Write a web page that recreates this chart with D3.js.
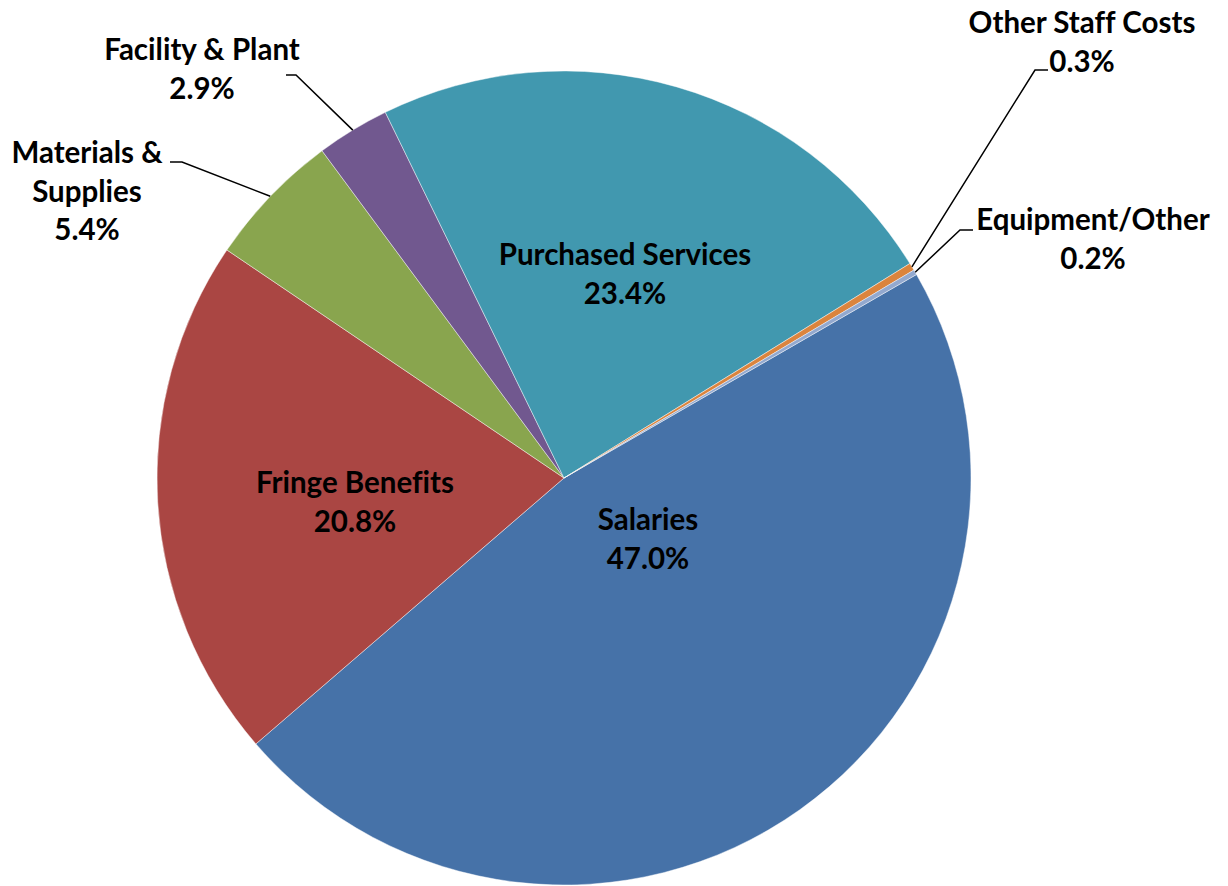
<!DOCTYPE html>
<html>
<head>
<meta charset="utf-8">
<script src="https://cdn.jsdelivr.net/npm/d3@7"></script>
<style>
  html, body { margin: 0; padding: 0; background: #ffffff; }
  svg { display: block; }
  text { font-family: Lato, "Open Sans", "Liberation Sans", sans-serif; font-weight: bold; fill: #000;
         font-variant-ligatures: none; font-feature-settings: "liga" 0; }
</style>
</head>
<body>
<svg id="chart" width="1228" height="886"></svg>
<script>
// ---- data ----
const categories = ["Salaries", "Fringe Benefits", "Materials & Supplies", "Facility & Plant",
                    "Purchased Services", "Other Staff Costs", "Equipment/Other"];
const values = [47.0, 20.8, 5.4, 2.9, 23.4, 0.3, 0.2];
const colors = ["#4672A8", "#AA4643", "#89A54E", "#71588F", "#4198AF", "#DB843D", "#93A9CF"];
// label text lines (name lines); percentage appended
const labelLines = [["Salaries"], ["Fringe Benefits"], ["Materials &", "Supplies"], ["Facility & Plant"],
                    ["Purchased Services"], ["Other Staff Costs"], ["Equipment/Other"]];

// ---- layout config ----
const W = 1228, H = 886;
const cx = 564, cy = 478, R = 407;
const startDeg = 60;
const fontSize = 29.5, lineH = 38.5;
// label anchor (center x, first-line baseline y) and leader elbow (for outside labels)
const labelLayout = [
  { x: 648, y: 530 },
  { x: 355, y: 493 },
  { x: 87,  y: 163, elbow: [182, 162], end: [170, 162] },
  { x: 202, y: 60,  elbow: [296, 75],  end: [286, 75] },
  { x: 625, y: 265 },
  { x: 1082, y: 33, elbow: [1035, 70], end: [1048, 70] },
  { x: 1093, y: 230, elbow: [960, 230], end: [973, 230] }
];

const svg = d3.select("#chart");
const data = categories.map((c, i) => ({ name: c, value: values[i], color: colors[i], lines: labelLines[i], lay: labelLayout[i] }));

const pie = d3.pie().value(d => d.value).sort(null)
  .startAngle(startDeg * Math.PI / 180)
  .endAngle(startDeg * Math.PI / 180 + 2 * Math.PI);
const arc = d3.arc().innerRadius(0).outerRadius(R);
const arcs = pie(data);

const g = svg.append("g").attr("transform", `translate(${cx},${cy})`);
g.selectAll("path.slice").data(arcs).enter().append("path")
  .attr("class", "slice")
  .attr("d", arc)
  .attr("fill", d => d.data.color)
  .attr("stroke", "#ffffff")
  .attr("stroke-opacity", 0.55)
  .attr("stroke-width", 0.8);

// leader lines
arcs.forEach(a => {
  const lay = a.data.lay;
  if (!lay.elbow) return;
  const mid = (a.startAngle + a.endAngle) / 2;
  const px = cx + R * Math.sin(mid), py = cy - R * Math.cos(mid);
  svg.append("polyline")
    .attr("points", [[px, py], lay.elbow, lay.end].map(p => p.join(",")).join(" "))
    .attr("fill", "none")
    .attr("stroke", "#000")
    .attr("stroke-width", 1.5);
});

// labels
arcs.forEach(a => {
  const lay = a.data.lay;
  const lines = a.data.lines.concat([a.data.value.toFixed(1) + "%"]);
  const t = svg.append("text")
    .attr("text-anchor", "middle")
    .attr("font-size", fontSize);
  lines.forEach((ln, i) => {
    t.append("tspan").attr("x", lay.x).attr("y", lay.y + i * lineH).text(ln);
  });
});
</script>
</body>
</html>
